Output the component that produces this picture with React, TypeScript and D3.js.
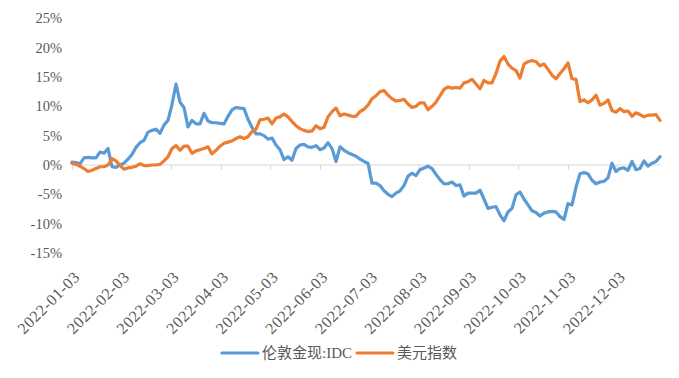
import React from "react";
import * as d3 from "d3";

const gold: number[] = [
  0.5, 0.4, 0.2, 1.2, 1.3, 1.2, 1.2, 2.2, 2.0, 2.8, -0.3, -0.4, 0.0, 0.3, 1.0, 1.8, 3.0, 3.8, 4.2, 5.6,
  5.9, 6.1, 5.4, 6.8, 7.6, 10.3, 13.8, 10.7, 9.8, 6.5, 7.6, 7.0, 7.0, 8.8, 7.5, 7.2, 7.2, 7.1, 7.0, 8.3,
  9.4, 9.8, 9.7, 9.6, 7.8, 6.4, 5.3, 5.3, 5.0, 4.4, 4.6, 3.4, 2.6, 0.9, 1.4, 0.8, 2.8, 3.4, 3.5, 3.1,
  3.0, 3.3, 2.6, 2.9, 3.8, 2.8, 0.6, 3.1, 2.5, 2.1, 1.8, 1.5, 1.0, 0.6, 0.3, -3.1, -3.1, -3.5, -4.4, -5.0,
  -5.4, -4.8, -4.4, -3.5, -1.9, -1.4, -1.8, -0.8, -0.5, -0.2, -0.6, -1.6, -2.5, -3.2, -3.2, -2.9, -3.5, -3.4, -5.3, -4.8,
  -4.8, -4.8, -4.3, -5.8, -7.4, -7.2, -7.1, -8.5, -9.5, -8.0, -7.4, -5.1, -4.6, -5.8, -6.8, -7.8, -8.1, -8.7, -8.2, -8.0,
  -7.9, -8.0, -8.8, -9.3, -6.6, -6.8, -3.8, -1.5, -1.3, -1.5, -2.6, -3.2, -2.9, -2.8, -2.2, 0.3, -1.1, -0.6, -0.5, -0.9,
  0.6, -0.8, -0.6, 0.7, -0.2, 0.3, 0.6, 1.4,
];

const usd: number[] = [
  0.3, 0.1, -0.2, -0.6, -1.1, -0.9, -0.6, -0.3, -0.3, 0.0, 1.1, 0.7, -0.1, -0.7, -0.5, -0.4, -0.2, 0.2, -0.1, -0.1,
  0.0, 0.0, 0.1, 0.7, 1.4, 2.8, 3.3, 2.5, 3.2, 3.2, 2.0, 2.4, 2.6, 2.8, 3.1, 1.9, 2.5, 3.2, 3.7, 3.9,
  4.1, 4.5, 4.8, 4.5, 4.8, 5.7, 6.1, 7.7, 7.8, 8.0, 7.0, 8.0, 8.2, 8.7, 8.2, 7.4, 6.7, 6.2, 5.9, 5.7,
  5.8, 6.7, 6.2, 6.4, 8.2, 9.1, 9.7, 8.4, 8.7, 8.5, 8.3, 8.3, 9.1, 9.5, 10.2, 11.3, 11.8, 12.5, 12.7, 11.9,
  11.3, 10.9, 11.0, 11.2, 10.4, 9.8, 10.0, 10.6, 10.6, 9.4, 10.0, 10.7, 11.8, 12.9, 13.3, 13.1, 13.2, 13.1, 14.0, 14.2,
  14.6, 13.8, 13.0, 14.4, 14.0, 14.0, 15.6, 17.7, 18.5, 17.2, 16.5, 16.1, 14.8, 17.2, 17.6, 17.8, 17.6, 16.9, 17.2, 16.3,
  15.3, 14.7, 15.6, 16.4, 17.4, 14.7, 14.6, 10.8, 11.1, 10.6, 11.1, 11.9, 10.2, 10.5, 11.1, 9.3, 9.0, 9.6, 9.1, 9.2,
  8.3, 8.9, 8.6, 8.2, 8.5, 8.5, 8.6, 7.6,
];

const seriesNames: string[] = ["伦敦金现:IDC", "美元指数"];
const seriesColors: string[] = ["#5B9BD5", "#ED7D31"];

const tickLabels: string[] = [
  "2022-01-03", "2022-02-03", "2022-03-03", "2022-04-03", "2022-05-03", "2022-06-03",
  "2022-07-03", "2022-08-03", "2022-09-03", "2022-10-03", "2022-11-03", "2022-12-03",
];

const yTicks: number[] = [25, 20, 15, 10, 5, 0, -5, -10, -15];

const DAY_COUNT = 250;
const TICK_EVERY = 21;

export default function App() {
  const W = 679;
  const H = 378;
  const x = d3.scaleLinear().domain([0, DAY_COUNT - 1]).range([72, 660]);
  const y = d3.scaleLinear().domain([-15, 25]).range([253, 18.3]);
  const toDay = (i: number, n: number) => (i * (DAY_COUNT - 1)) / (n - 1);
  const line = (vals: number[]) =>
    d3
      .line<number>()
      .x((_, i) => x(toDay(i, vals.length)))
      .y((v) => y(v))(vals) || "";
  const tickDays = d3.range(0, tickLabels.length + 1).map((k) => k * TICK_EVERY).filter((d) => d <= DAY_COUNT);
  const serif = "'Liberation Serif', 'Times New Roman', 'Noto Sans CJK SC', serif";
  const textColor = "#595959";

  return (
    <svg width={W} height={H} style={{ position: "absolute", left: 0, top: 0 }}>
      <rect width={W} height={H} fill="#fff" />
      {yTicks.map((t) => (
        <text key={t} x={62} y={y(t)} dy="0.35em" textAnchor="end" fontFamily={serif} fontSize={14.5} fill={textColor}>
          {t}%
        </text>
      ))}
      <line x1={x(0)} x2={x(DAY_COUNT - 1)} y1={y(0)} y2={y(0)} stroke="#d9d9d9" strokeWidth={1} />
      {tickDays.map((d) => (
        <line key={d} x1={Math.round(x(d)) + 0.5} x2={Math.round(x(d)) + 0.5} y1={y(0)} y2={y(0) + 5} stroke="#d9d9d9" strokeWidth={1} />
      ))}
      {tickLabels.map((lab, k) => (
        <text
          key={lab}
          transform={`translate(${x(k * TICK_EVERY) + 1},${270}) rotate(-45)`}
          textAnchor="end"
          dy="0.7em"
          fontFamily={serif}
          fontSize={16}
          letterSpacing={0.6}
          fill={textColor}
        >
          {lab}
        </text>
      ))}
      {[gold, usd].map((vals, si) => (
        <path key={si} d={line(vals)} fill="none" stroke={seriesColors[si]} strokeWidth={3.2} strokeLinejoin="round" strokeLinecap="round" />
      ))}
      {(() => {
        const items = [
          { x0: 222, name: seriesNames[0], color: seriesColors[0] },
          { x0: 357, name: seriesNames[1], color: seriesColors[1] },
        ];
        return items.map((it) => (
          <g key={it.name}>
            <line x1={it.x0} x2={it.x0 + 36} y1={353} y2={353} stroke={it.color} strokeWidth={3.2} strokeLinecap="round" />
            <text x={it.x0 + 40} y={353} dy="0.35em" fontFamily={serif} fontSize={15} fill={textColor}>
              {it.name}
            </text>
          </g>
        ));
      })()}
    </svg>
  );
}
